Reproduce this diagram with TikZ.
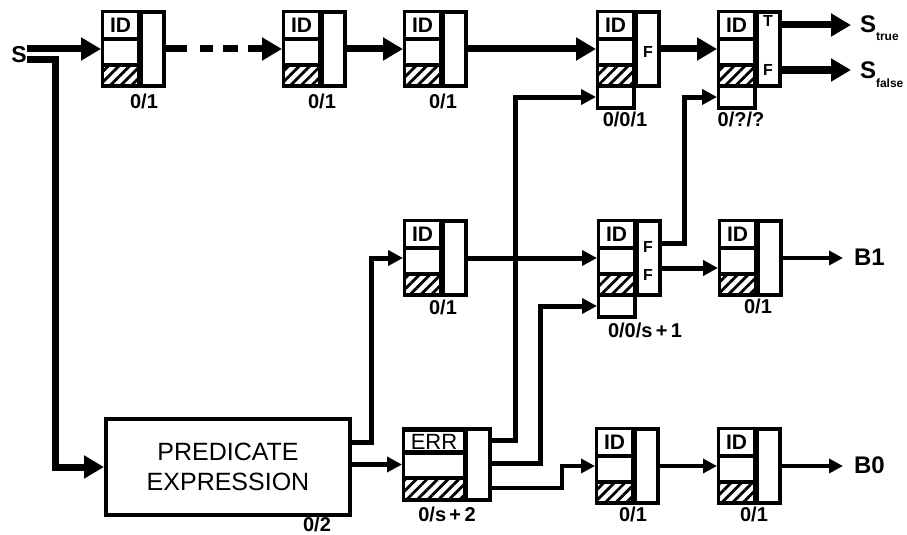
\documentclass[tikz,border=0pt]{standalone}
\usepackage{fontspec}
\setmainfont{Liberation Sans}
\usetikzlibrary{arrows.meta,patterns.meta,calc}
\tikzset{
  regframe/.style={fill=black, inner sep=0pt, outer sep=0pt, anchor=north west},
  cell/.style={fill=white},
  hatch/.style={fill=white, postaction={pattern={Lines[angle=45,distance=7.5pt,line width=2.8pt]}}},
  idtxt/.style={font=\fontsize{21}{21}\selectfont\bfseries, inner sep=0pt},
  errtxt/.style={font=\fontsize{22}{22}\selectfont, inner sep=0pt},
  lbl/.style={font=\fontsize{20}{20}\selectfont\bfseries, inner sep=0pt},
  coltxt/.style={font=\fontsize{16}{16}\selectfont\bfseries, inner sep=0pt},
  endlbl/.style={font=\fontsize{24}{24}\selectfont\bfseries, inner sep=0pt, anchor=west},
  bigline/.style={line width=7pt},
  bigarrow/.style={line width=7pt, line join=miter, -{Triangle[length=20pt,width=22pt]}},
  midarrow/.style={line width=5pt, line join=miter, -{Triangle[length=15pt,width=15pt]}},
  thinarrow/.style={line width=3.8pt, line join=miter, -{Triangle[length=14pt,width=14pt]}},
}
\newcommand\regbox[3]{%
  \node[regframe, minimum width=65pt, minimum height=78pt] (#1) at (#2,#3) {};
  \path[cell] ($(#1.north west)+(3,3)$) rectangle ($(#1.north west)+(36,27)$);
  \node[idtxt] (#1id) at ($(#1.north west)+(19.5,15)$) {ID};
  \path[cell] ($(#1.north west)+(3,31)$) rectangle ($(#1.north west)+(36,53)$);
  \path[hatch] ($(#1.north west)+(3,57)$) rectangle ($(#1.north west)+(36,74)$);
  \path[cell] ($(#1.north west)+(42,4)$) rectangle ($(#1.north west)+(61,74)$);
}
\newcommand\extcell[1]{%
  \node[regframe, minimum width=40pt, minimum height=26pt] (#1x) at ($(#1.south west)+(0,-4)$) {};
  \path[cell] ($(#1x.north west)+(3,4)$) rectangle ($(#1x.north west)+(36,22)$);
}
\begin{document}
\begin{tikzpicture}[x=1pt,y=-1pt]
\useasboundingbox[fill=white] (0,0) rectangle (907,535);

% top row
\regbox{b1}{101}{10}
\regbox{b2}{282}{10}
\regbox{b3}{403}{10}
\regbox{b4}{596}{10}
\extcell{b4}
\node[coltxt] (b4f) at ($(b4.north west)+(52,42)$) {F};
\regbox{b5}{717}{10}
\extcell{b5}
\node[coltxt] (b5t) at ($(b5.north west)+(51,11)$) {T};
\node[coltxt] (b5f) at ($(b5.north west)+(51,60)$) {F};

% middle row
\regbox{m1}{403}{219}
\regbox{mf}{597}{219}
\extcell{mf}
\node[coltxt] (mff1) at ($(mf.north west)+(51,28)$) {F};
\node[coltxt] (mff2) at ($(mf.north west)+(51,56)$) {F};
\regbox{m2}{718}{219}

% bottom row
\node[draw, line width=4pt, fill=white, minimum width=244pt, minimum height=96pt, inner sep=0pt, anchor=north west,
      font=\fontsize{25}{30}\selectfont, align=center] (pred) at (104,417) {PREDICATE\\EXPRESSION};
\node[regframe, minimum width=90pt, minimum height=75pt] (err) at (402,427) {};
\path[cell] ($(err.north west)+(3,5)$) rectangle ($(err.north west)+(61,23)$);
\node[errtxt] (errt) at ($(err.north west)+(32,14.5)$) {ERR};
\path[cell] ($(err.north west)+(3,28)$) rectangle ($(err.north west)+(61,49)$);
\path[hatch] ($(err.north west)+(3,53)$) rectangle ($(err.north west)+(61,71)$);
\path[cell] ($(err.north west)+(66,4)$) rectangle ($(err.north west)+(86,71)$);
\regbox{bb1}{595}{427}
\regbox{bb2}{717}{427}

% labels
\node[lbl] (l1) at (144,101) {0/1};
\node[lbl] (l2) at (322,101) {0/1};
\node[lbl] (l3) at (443,101) {0/1};
\node[lbl] (l4) at (625,119) {0/0/1};
\node[lbl] (l5) at (741,119) {0/?/?};
\node[lbl] (l6) at (443,307) {0/1};
\node[lbl] (l7) at (645,330) {0/0/s\,+\,1};
\node[lbl] (l8) at (758,306) {0/1};
\node[lbl] (l9) at (317,524) {0/2};
\node[lbl] (l10) at (447,514) {0/s\,+\,2};
\node[lbl] (l11) at (633,514) {0/1};
\node[lbl] (l12) at (754,514) {0/1};

% end labels
\node[font=\fontsize{23}{23}\selectfont\bfseries, inner sep=0pt] (s) at (19,55) {S};
\node[endlbl, outer xsep=9pt] (strue) at (851,24) {S\rlap{\smash{\raisebox{-8pt}{\fontsize{12}{12}\selectfont\bfseries true}}}};
\node[endlbl, outer xsep=9pt] (sfalse) at (851,70) {S\rlap{\smash{\raisebox{-9pt}{\fontsize{12}{12}\selectfont\bfseries false}}}};
\node[endlbl, outer xsep=11pt] (bone) at (843,257) {B1};
\node[endlbl, outer xsep=11pt] (bzero) at (843,465) {B0};

% top chain
\coordinate (d1) at (187,49);
\coordinate (d2) at (200,49);
\coordinate (d3) at (213,49);
\coordinate (d4) at (223,49);
\coordinate (d5) at (238,49);
\coordinate (d6) at (248,49);
\draw[bigarrow] (s.east |- b1.west) -- (b1.west);
\draw[bigline] (b1.east) -- (d1);
\draw[bigline] (d2) -- (d3);
\draw[bigline] (d4) -- (d5);
\draw[bigarrow] (d6) -- (b2.west);
\draw[bigarrow] (b2.east) -- (b3.west);
\draw[bigarrow] (b3.east) -- (b4.west);
\draw[bigarrow] (b4.east) -- (b5.west);
\draw[bigarrow] ([yshift=24pt]b5.east) -- ([yshift=24pt]b5.east -| strue.west);
\draw[bigarrow] ([yshift=-21pt]b5.east) -- ([yshift=-21pt]b5.east -| sfalse.west);

% S to predicate
\draw[bigarrow] ([yshift=-5pt]s.east) -- (55,60) |- (pred.west);

% predicate outputs
\draw[midarrow] ([yshift=25pt]pred.east) -- ++(19,0) |- (m1.west);
\draw[midarrow] (pred.east |- err.west) -- (err.west);

% err outputs
\draw[midarrow] ([yshift=24.5pt]err.east) -- ++(23,0) |- (b4x.west);
\draw[midarrow] ([yshift=1.5pt]err.east) -- ++(48,0) |- (mfx.west);
\draw[thinarrow] ([yshift=-23.5pt]err.east) -- ++(70,0) |- (bb1.west);

% middle connections
\draw[midarrow] (m1.east) -- (mf.west);
\draw[midarrow] ([yshift=15pt]mf.east) -- ++(22,0) |- (b5x.west);
\draw[midarrow] ([yshift=-10pt]mf.east) -- ([yshift=-10pt]m2.west);
\draw[thinarrow] (m2.east) -- (m2.east -| bone.west);

% bottom connections
\draw[thinarrow] (bb1.east) -- (bb2.west);
\draw[thinarrow] (bb2.east) -- (bb2.east -| bzero.west);
\end{tikzpicture}
\end{document}
